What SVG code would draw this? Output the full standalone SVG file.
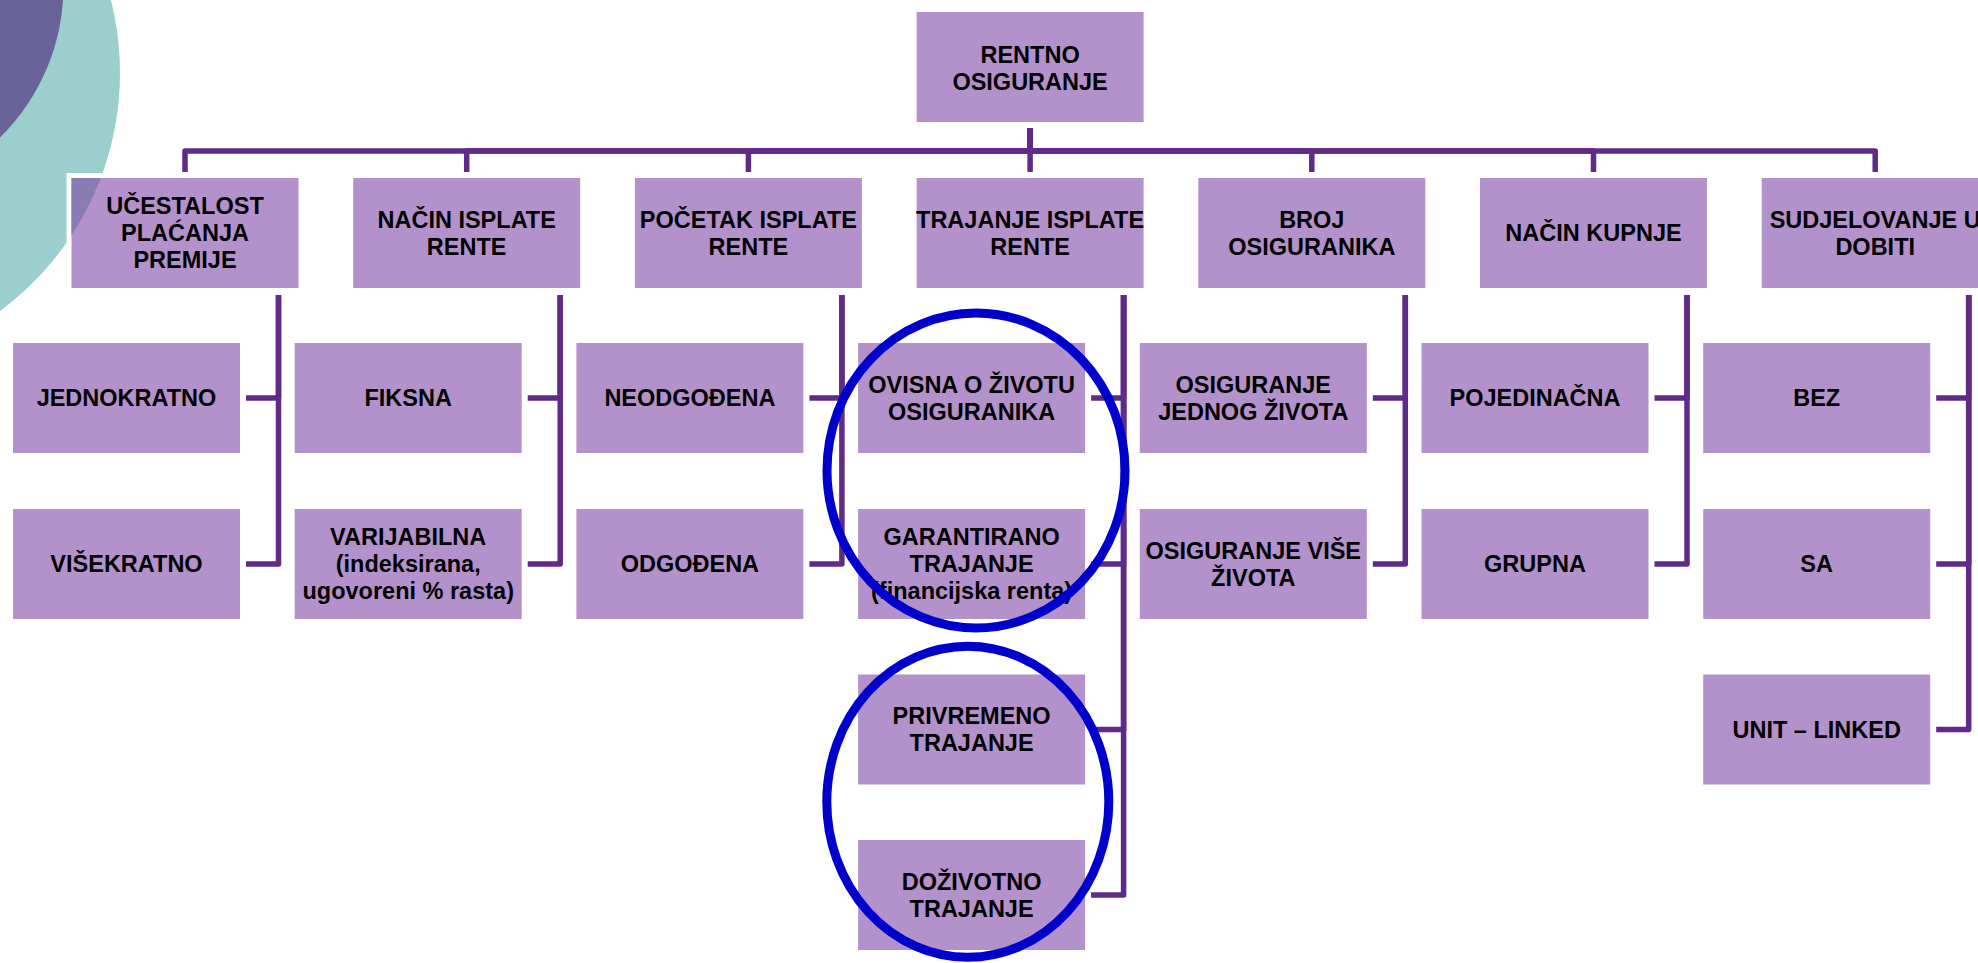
<svg xmlns="http://www.w3.org/2000/svg" width="1978" height="963" viewBox="0 0 1978 963">
  <style>
    .box { fill: #b392cc; stroke: #ffffff; stroke-width: 5; }
    .lbl { font-family: "Liberation Sans", Arial, sans-serif; font-weight: bold; font-size: 23.5px; fill: #000000; text-anchor: middle; }
    .con { fill: none; stroke: #5f2a88; stroke-width: 5.5; stroke-linejoin: round; }
    .ring { fill: none; stroke: #0000cc; stroke-width: 9; }
  </style>
  <defs>
    <clipPath id="h1clip">
      <rect x="71.5" y="178" width="227" height="110"/>
    </clipPath>
  </defs>

  <rect x="0" y="0" width="1978" height="963" fill="#ffffff"/>

  <!-- decorative corner discs -->
  <g id="decor">
    <circle cx="-176" cy="73" r="296" fill="#9ccece"/>
    <circle cx="-149" cy="-14" r="212.5" fill="#6a639a"/>
  </g>

  <!-- connectors -->
  <g id="connectors">
    <!-- root to category headers -->
    <path class="con" d="M1030.1 128 V151 H185 V172"/>
    <path class="con" d="M1030.1 128 V151 H466.7 V172"/>
    <path class="con" d="M1030.1 128 V151 H748.4 V172"/>
    <path class="con" d="M1030.1 128 V172"/>
    <path class="con" d="M1030.1 128 V151 H1311.8 V172"/>
    <path class="con" d="M1030.1 128 V151 H1593.5 V172"/>
    <path class="con" d="M1030.1 128 V151 H1875.2 V172"/>

    <!-- column 1 -->
    <path class="con" d="M278.5 295 V398 H246"/>
    <path class="con" d="M278.5 295 V564 H246"/>
    <!-- column 2 -->
    <path class="con" d="M560.2 295 V398 H527.7"/>
    <path class="con" d="M560.2 295 V564 H527.7"/>
    <!-- column 3 -->
    <path class="con" d="M841.9 295 V398 H809.4"/>
    <path class="con" d="M841.9 295 V564 H809.4"/>
    <!-- column 4 -->
    <path class="con" d="M1123.6 295 V398 H1091.1"/>
    <path class="con" d="M1123.6 295 V564 H1091.1"/>
    <path class="con" d="M1123.6 295 V729.5 H1091.1"/>
    <path class="con" d="M1123.6 295 V895 H1091.1"/>
    <!-- column 5 -->
    <path class="con" d="M1405.3 295 V398 H1372.8"/>
    <path class="con" d="M1405.3 295 V564 H1372.8"/>
    <!-- column 6 -->
    <path class="con" d="M1687 295 V398 H1654.5"/>
    <path class="con" d="M1687 295 V564 H1654.5"/>
    <!-- column 7 -->
    <path class="con" d="M1968.7 295 V398 H1936.2"/>
    <path class="con" d="M1968.7 295 V564 H1936.2"/>
    <path class="con" d="M1968.7 295 V729.5 H1936.2"/>
  </g>

  <!-- root -->
  <g id="root">
    <rect class="box" x="914.1" y="9.5" width="232" height="115"/>
    <text class="lbl" x="1030.1" y="63">RENTNO</text>
    <text class="lbl" x="1030.1" y="90">OSIGURANJE</text>
  </g>

  <!-- category headers -->
  <g id="h1">
    <rect class="box" x="69" y="175.5" width="232" height="115"/>
    <circle cx="-176" cy="73" r="296" fill="#8a7bb5" clip-path="url(#h1clip)"/>
    <text class="lbl" x="185" y="214.4">UČESTALOST</text>
    <text class="lbl" x="185" y="241.4">PLAĆANJA</text>
    <text class="lbl" x="185" y="268.4">PREMIJE</text>
  </g>
  <g id="h2">
    <rect class="box" x="350.7" y="175.5" width="232" height="115"/>
    <text class="lbl" x="466.7" y="227.9">NAČIN ISPLATE</text>
    <text class="lbl" x="466.7" y="254.9">RENTE</text>
  </g>
  <g id="h3">
    <rect class="box" x="632.4" y="175.5" width="232" height="115"/>
    <text class="lbl" x="748.4" y="227.9">POČETAK ISPLATE</text>
    <text class="lbl" x="748.4" y="254.9">RENTE</text>
  </g>
  <g id="h4">
    <rect class="box" x="914.1" y="175.5" width="232" height="115"/>
    <text class="lbl" x="1030.1" y="227.9">TRAJANJE ISPLATE</text>
    <text class="lbl" x="1030.1" y="254.9">RENTE</text>
  </g>
  <g id="h5">
    <rect class="box" x="1195.8" y="175.5" width="232" height="115"/>
    <text class="lbl" x="1311.8" y="227.9">BROJ</text>
    <text class="lbl" x="1311.8" y="254.9">OSIGURANIKA</text>
  </g>
  <g id="h6">
    <rect class="box" x="1477.5" y="175.5" width="232" height="115"/>
    <text class="lbl" x="1593.5" y="241.4">NAČIN KUPNJE</text>
  </g>
  <g id="h7">
    <rect class="box" x="1759.2" y="175.5" width="232" height="115"/>
    <text class="lbl" x="1875.2" y="227.9">SUDJELOVANJE U</text>
    <text class="lbl" x="1875.2" y="254.9">DOBITI</text>
  </g>

  <!-- column 1 items -->
  <g id="c1a">
    <rect class="box" x="10.5" y="340.5" width="232" height="115"/>
    <text class="lbl" x="126.5" y="406.4">JEDNOKRATNO</text>
  </g>
  <g id="c1b">
    <rect class="box" x="10.5" y="506.5" width="232" height="115"/>
    <text class="lbl" x="126.5" y="572.4">VIŠEKRATNO</text>
  </g>

  <!-- column 2 items -->
  <g id="c2a">
    <rect class="box" x="292.2" y="340.5" width="232" height="115"/>
    <text class="lbl" x="408.2" y="406.4">FIKSNA</text>
  </g>
  <g id="c2b">
    <rect class="box" x="292.2" y="506.5" width="232" height="115"/>
    <text class="lbl" x="408.2" y="545.4">VARIJABILNA</text>
    <text class="lbl" x="408.2" y="572.4">(indeksirana,</text>
    <text class="lbl" x="408.2" y="599.4">ugovoreni % rasta)</text>
  </g>

  <!-- column 3 items -->
  <g id="c3a">
    <rect class="box" x="573.9" y="340.5" width="232" height="115"/>
    <text class="lbl" x="689.9" y="406.4">NEODGOĐENA</text>
  </g>
  <g id="c3b">
    <rect class="box" x="573.9" y="506.5" width="232" height="115"/>
    <text class="lbl" x="689.9" y="572.4">ODGOĐENA</text>
  </g>

  <!-- column 4 items -->
  <g id="c4a">
    <rect class="box" x="855.6" y="340.5" width="232" height="115"/>
    <text class="lbl" x="971.6" y="392.9">OVISNA O ŽIVOTU</text>
    <text class="lbl" x="971.6" y="419.9">OSIGURANIKA</text>
  </g>
  <g id="c4b">
    <rect class="box" x="855.6" y="506.5" width="232" height="115"/>
    <text class="lbl" x="971.6" y="545.4">GARANTIRANO</text>
    <text class="lbl" x="971.6" y="572.4">TRAJANJE</text>
    <text class="lbl" x="971.6" y="599.4">(financijska renta)</text>
  </g>
  <g id="c4c">
    <rect class="box" x="855.6" y="672" width="232" height="115"/>
    <text class="lbl" x="971.6" y="724.4">PRIVREMENO</text>
    <text class="lbl" x="971.6" y="751.4">TRAJANJE</text>
  </g>
  <g id="c4d">
    <rect class="box" x="855.6" y="837.5" width="232" height="115"/>
    <text class="lbl" x="971.6" y="889.9">DOŽIVOTNO</text>
    <text class="lbl" x="971.6" y="916.9">TRAJANJE</text>
  </g>

  <!-- column 5 items -->
  <g id="c5a">
    <rect class="box" x="1137.3" y="340.5" width="232" height="115"/>
    <text class="lbl" x="1253.3" y="392.9">OSIGURANJE</text>
    <text class="lbl" x="1253.3" y="419.9">JEDNOG ŽIVOTA</text>
  </g>
  <g id="c5b">
    <rect class="box" x="1137.3" y="506.5" width="232" height="115"/>
    <text class="lbl" x="1253.3" y="558.9">OSIGURANJE VIŠE</text>
    <text class="lbl" x="1253.3" y="585.9">ŽIVOTA</text>
  </g>

  <!-- column 6 items -->
  <g id="c6a">
    <rect class="box" x="1419" y="340.5" width="232" height="115"/>
    <text class="lbl" x="1535" y="406.4">POJEDINAČNA</text>
  </g>
  <g id="c6b">
    <rect class="box" x="1419" y="506.5" width="232" height="115"/>
    <text class="lbl" x="1535" y="572.4">GRUPNA</text>
  </g>

  <!-- column 7 items -->
  <g id="c7a">
    <rect class="box" x="1700.7" y="340.5" width="232" height="115"/>
    <text class="lbl" x="1816.7" y="406.4">BEZ</text>
  </g>
  <g id="c7b">
    <rect class="box" x="1700.7" y="506.5" width="232" height="115"/>
    <text class="lbl" x="1816.7" y="572.4">SA</text>
  </g>
  <g id="c7c">
    <rect class="box" x="1700.7" y="672" width="232" height="115"/>
    <text class="lbl" x="1816.7" y="737.9">UNIT – LINKED</text>
  </g>

  <!-- highlight rings -->
  <g id="highlights">
    <ellipse class="ring" cx="976" cy="470.5" rx="149" ry="157.5"/>
    <ellipse class="ring" cx="967.8" cy="801.8" rx="141" ry="155.5"/>
  </g>
</svg>
